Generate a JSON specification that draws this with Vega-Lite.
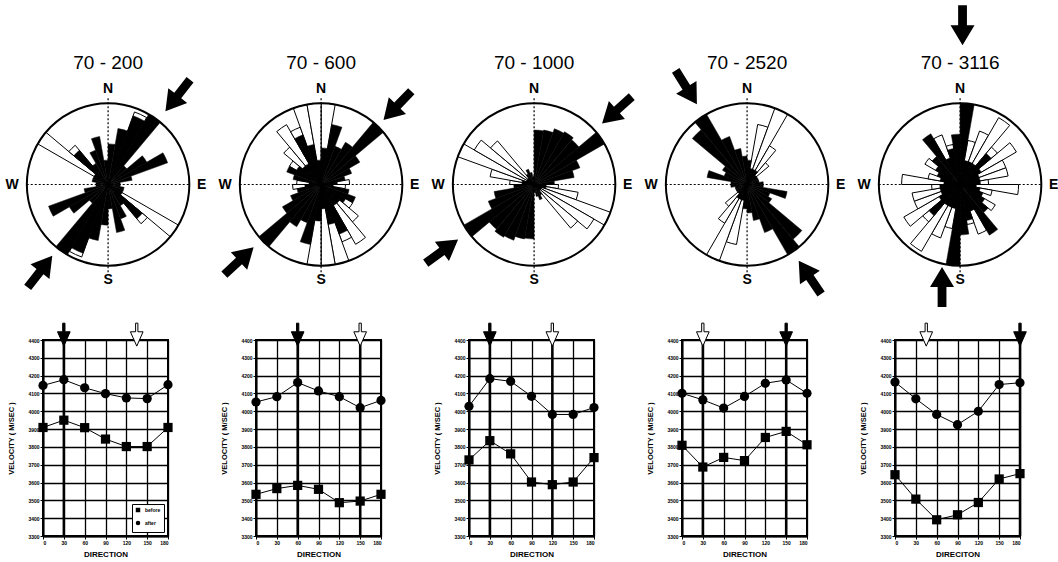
{
"$schema":"https://vega.github.io/schema/vega-lite/v6.json",
"padding":{"left":5,"top":5,"right":5,"bottom":1},
"background":"white",
"config":{"font":"Liberation Sans","view":{"stroke":"black","strokeWidth":2},
"axis":{"domainColor":"black","domainWidth":2,"gridColor":"black","gridOpacity":1,"gridWidth":1.3,"grid":true,"tickColor":"black","tickSize":3,"labelColor":"black","labelFontSize":5,"labelFontWeight":"bold","labelPadding":1,"titleColor":"black","titleFontWeight":"bold"}},
"datasets":{
"frame":[{"p":1,"t":"70 - 200"},{"p":2,"t":"70 - 600"},{"p":3,"t":"70 - 1000"},{"p":4,"t":"70 - 2520"},{"p":5,"t":"70 - 3116"}],
"compass":[{"l":"N","x":0,"y":1.18},{"l":"S","x":0,"y":-1.18},{"l":"W","x":-1.18,"y":0},{"l":"E","x":1.15,"y":0}],
"arrows":[{"p":1,"x":0.856,"y":1.095,"rot":38},{"p":1,"x":-0.837,"y":-1.072,"rot":218},
{"p":2,"x":0.938,"y":0.971,"rot":44},{"p":2,"x":-1.009,"y":-0.941,"rot":227},
{"p":3,"x":1.018,"y":0.917,"rot":48},{"p":3,"x":-1.133,"y":-0.823,"rot":234},
{"p":4,"x":-0.747,"y":1.196,"rot":328},{"p":4,"x":0.772,"y":-1.144,"rot":146},
{"p":5,"x":0.03,"y":1.96,"rot":0},{"p":5,"x":-0.222,"y":-1.26,"rot":180}],
"rose":[
{"p":1,"a":0,"b":10,"r":0.5,"c":"b"},{"p":1,"a":10,"b":20,"r":0.7,"c":"b"},{"p":1,"a":20,"b":30,"r":0.9,"c":"b"},{"p":1,"a":30,"b":40,"r":1,"c":"b"},{"p":1,"a":40,"b":50,"r":0.3,"c":"b"},{"p":1,"a":50,"b":60,"r":0.55,"c":"b"},{"p":1,"a":60,"b":70,"r":0.78,"c":"b"},{"p":1,"a":70,"b":80,"r":0.3,"c":"b"},{"p":1,"a":80,"b":90,"r":0.15,"c":"b"},{"p":1,"a":90,"b":100,"r":0.15,"c":"b"},{"p":1,"a":100,"b":110,"r":0.2,"c":"b"},{"p":1,"a":110,"b":120,"r":0.2,"c":"b"},{"p":1,"a":120,"b":130,"r":0.2,"c":"b"},{"p":1,"a":130,"b":140,"r":0.55,"c":"b"},{"p":1,"a":140,"b":150,"r":0.3,"c":"b"},{"p":1,"a":150,"b":160,"r":0.45,"c":"b"},{"p":1,"a":160,"b":170,"r":0.6,"c":"b"},{"p":1,"a":170,"b":180,"r":0.3,"c":"b"},
{"p":1,"a":180,"b":190,"r":0.5,"c":"b"},{"p":1,"a":190,"b":200,"r":0.7,"c":"b"},{"p":1,"a":200,"b":210,"r":0.9,"c":"b"},{"p":1,"a":210,"b":220,"r":1,"c":"b"},{"p":1,"a":220,"b":230,"r":0.3,"c":"b"},{"p":1,"a":230,"b":240,"r":0.55,"c":"b"},{"p":1,"a":240,"b":250,"r":0.78,"c":"b"},{"p":1,"a":250,"b":260,"r":0.3,"c":"b"},{"p":1,"a":260,"b":270,"r":0.15,"c":"b"},{"p":1,"a":270,"b":280,"r":0.15,"c":"b"},{"p":1,"a":280,"b":290,"r":0.2,"c":"b"},{"p":1,"a":290,"b":300,"r":0.2,"c":"b"},{"p":1,"a":300,"b":310,"r":0.2,"c":"b"},{"p":1,"a":310,"b":320,"r":0.55,"c":"b"},{"p":1,"a":320,"b":330,"r":0.3,"c":"b"},{"p":1,"a":330,"b":340,"r":0.45,"c":"b"},{"p":1,"a":340,"b":350,"r":0.6,"c":"b"},{"p":1,"a":350,"b":360,"r":0.3,"c":"b"},
{"p":1,"a":20,"b":30,"r":0.95,"c":"w"},{"p":1,"a":120,"b":130,"r":1,"c":"w"},{"p":1,"a":130,"b":140,"r":0.63,"c":"w"},{"p":1,"a":200,"b":210,"r":0.95,"c":"w"},{"p":1,"a":300,"b":310,"r":1,"c":"w"},{"p":1,"a":310,"b":320,"r":0.63,"c":"w"},
{"p":2,"a":0,"b":10,"r":0.45,"c":"b"},{"p":2,"a":10,"b":20,"r":0.75,"c":"b"},{"p":2,"a":20,"b":30,"r":0.5,"c":"b"},{"p":2,"a":30,"b":40,"r":0.6,"c":"b"},{"p":2,"a":40,"b":50,"r":1,"c":"b"},{"p":2,"a":50,"b":60,"r":0.55,"c":"b"},{"p":2,"a":60,"b":70,"r":0.4,"c":"b"},{"p":2,"a":70,"b":80,"r":0.3,"c":"b"},{"p":2,"a":80,"b":90,"r":0.2,"c":"b"},{"p":2,"a":90,"b":100,"r":0.15,"c":"b"},{"p":2,"a":100,"b":110,"r":0.35,"c":"b"},{"p":2,"a":110,"b":120,"r":0.45,"c":"b"},{"p":2,"a":120,"b":130,"r":0.35,"c":"b"},{"p":2,"a":130,"b":140,"r":0.3,"c":"b"},{"p":2,"a":140,"b":150,"r":0.3,"c":"b"},{"p":2,"a":150,"b":160,"r":0.65,"c":"b"},{"p":2,"a":160,"b":170,"r":0.5,"c":"b"},{"p":2,"a":170,"b":180,"r":0.3,"c":"b"},
{"p":2,"a":180,"b":190,"r":0.45,"c":"b"},{"p":2,"a":190,"b":200,"r":0.75,"c":"b"},{"p":2,"a":200,"b":210,"r":0.5,"c":"b"},{"p":2,"a":210,"b":220,"r":0.6,"c":"b"},{"p":2,"a":220,"b":230,"r":1,"c":"b"},{"p":2,"a":230,"b":240,"r":0.55,"c":"b"},{"p":2,"a":240,"b":250,"r":0.4,"c":"b"},{"p":2,"a":250,"b":260,"r":0.3,"c":"b"},{"p":2,"a":260,"b":270,"r":0.2,"c":"b"},{"p":2,"a":270,"b":280,"r":0.15,"c":"b"},{"p":2,"a":280,"b":290,"r":0.35,"c":"b"},{"p":2,"a":290,"b":300,"r":0.45,"c":"b"},{"p":2,"a":300,"b":310,"r":0.35,"c":"b"},{"p":2,"a":310,"b":320,"r":0.3,"c":"b"},{"p":2,"a":320,"b":330,"r":0.3,"c":"b"},{"p":2,"a":330,"b":340,"r":0.65,"c":"b"},{"p":2,"a":340,"b":350,"r":0.5,"c":"b"},{"p":2,"a":350,"b":360,"r":0.3,"c":"b"},
{"p":2,"a":0,"b":10,"r":1,"c":"w"},{"p":2,"a":80,"b":90,"r":0.35,"c":"w"},{"p":2,"a":90,"b":100,"r":0.3,"c":"w"},{"p":2,"a":120,"b":130,"r":0.45,"c":"w"},{"p":2,"a":130,"b":140,"r":0.6,"c":"w"},{"p":2,"a":140,"b":150,"r":0.85,"c":"w"},{"p":2,"a":150,"b":160,"r":0.75,"c":"w"},{"p":2,"a":160,"b":170,"r":1,"c":"w"},{"p":2,"a":170,"b":180,"r":1,"c":"w"},
{"p":2,"a":180,"b":190,"r":1,"c":"w"},{"p":2,"a":260,"b":270,"r":0.35,"c":"w"},{"p":2,"a":270,"b":280,"r":0.3,"c":"w"},{"p":2,"a":300,"b":310,"r":0.45,"c":"w"},{"p":2,"a":310,"b":320,"r":0.6,"c":"w"},{"p":2,"a":320,"b":330,"r":0.85,"c":"w"},{"p":2,"a":330,"b":340,"r":0.75,"c":"w"},{"p":2,"a":340,"b":350,"r":1,"c":"w"},{"p":2,"a":350,"b":360,"r":1,"c":"w"},
{"p":3,"a":0,"b":10,"r":0.67,"c":"b"},{"p":3,"a":10,"b":20,"r":0.68,"c":"b"},{"p":3,"a":20,"b":30,"r":0.73,"c":"b"},{"p":3,"a":30,"b":40,"r":0.75,"c":"b"},{"p":3,"a":40,"b":50,"r":0.72,"c":"b"},{"p":3,"a":50,"b":60,"r":1,"c":"b"},{"p":3,"a":60,"b":70,"r":0.6,"c":"b"},{"p":3,"a":70,"b":80,"r":0.5,"c":"b"},{"p":3,"a":80,"b":90,"r":0.25,"c":"b"},{"p":3,"a":90,"b":100,"r":0.15,"c":"b"},{"p":3,"a":100,"b":110,"r":0.15,"c":"b"},{"p":3,"a":110,"b":120,"r":0.1,"c":"b"},{"p":3,"a":120,"b":130,"r":0.1,"c":"b"},{"p":3,"a":130,"b":140,"r":0.1,"c":"b"},{"p":3,"a":140,"b":150,"r":0.15,"c":"b"},{"p":3,"a":150,"b":160,"r":0.2,"c":"b"},{"p":3,"a":160,"b":170,"r":0.15,"c":"b"},{"p":3,"a":170,"b":180,"r":0.1,"c":"b"},
{"p":3,"a":180,"b":190,"r":0.67,"c":"b"},{"p":3,"a":190,"b":200,"r":0.68,"c":"b"},{"p":3,"a":200,"b":210,"r":0.73,"c":"b"},{"p":3,"a":210,"b":220,"r":0.75,"c":"b"},{"p":3,"a":220,"b":230,"r":0.72,"c":"b"},{"p":3,"a":230,"b":240,"r":1,"c":"b"},{"p":3,"a":240,"b":250,"r":0.6,"c":"b"},{"p":3,"a":250,"b":260,"r":0.5,"c":"b"},{"p":3,"a":260,"b":270,"r":0.25,"c":"b"},{"p":3,"a":270,"b":280,"r":0.15,"c":"b"},{"p":3,"a":280,"b":290,"r":0.15,"c":"b"},{"p":3,"a":290,"b":300,"r":0.1,"c":"b"},{"p":3,"a":300,"b":310,"r":0.1,"c":"b"},{"p":3,"a":310,"b":320,"r":0.1,"c":"b"},{"p":3,"a":320,"b":330,"r":0.15,"c":"b"},{"p":3,"a":330,"b":340,"r":0.2,"c":"b"},{"p":3,"a":340,"b":350,"r":0.15,"c":"b"},{"p":3,"a":350,"b":360,"r":0.1,"c":"b"},
{"p":3,"a":90,"b":100,"r":0.3,"c":"w"},{"p":3,"a":100,"b":110,"r":0.55,"c":"w"},{"p":3,"a":110,"b":120,"r":1,"c":"w"},{"p":3,"a":120,"b":130,"r":0.85,"c":"w"},{"p":3,"a":130,"b":140,"r":0.7,"c":"w"},
{"p":3,"a":270,"b":280,"r":0.3,"c":"w"},{"p":3,"a":280,"b":290,"r":0.55,"c":"w"},{"p":3,"a":290,"b":300,"r":1,"c":"w"},{"p":3,"a":300,"b":310,"r":0.85,"c":"w"},{"p":3,"a":310,"b":320,"r":0.7,"c":"w"},
{"p":4,"a":0,"b":10,"r":0.3,"c":"b"},{"p":4,"a":10,"b":20,"r":0.2,"c":"b"},{"p":4,"a":20,"b":30,"r":0.2,"c":"b"},{"p":4,"a":30,"b":40,"r":0.2,"c":"b"},{"p":4,"a":40,"b":50,"r":0.15,"c":"b"},{"p":4,"a":50,"b":60,"r":0.15,"c":"b"},{"p":4,"a":60,"b":70,"r":0.15,"c":"b"},{"p":4,"a":70,"b":80,"r":0.15,"c":"b"},{"p":4,"a":80,"b":90,"r":0.2,"c":"b"},{"p":4,"a":90,"b":100,"r":0.2,"c":"b"},{"p":4,"a":100,"b":110,"r":0.5,"c":"b"},{"p":4,"a":110,"b":120,"r":0.3,"c":"b"},{"p":4,"a":120,"b":130,"r":0.35,"c":"b"},{"p":4,"a":130,"b":140,"r":0.88,"c":"b"},{"p":4,"a":140,"b":150,"r":1,"c":"b"},{"p":4,"a":150,"b":160,"r":0.63,"c":"b"},{"p":4,"a":160,"b":170,"r":0.45,"c":"b"},{"p":4,"a":170,"b":180,"r":0.35,"c":"b"},
{"p":4,"a":180,"b":190,"r":0.3,"c":"b"},{"p":4,"a":190,"b":200,"r":0.2,"c":"b"},{"p":4,"a":200,"b":210,"r":0.2,"c":"b"},{"p":4,"a":210,"b":220,"r":0.2,"c":"b"},{"p":4,"a":220,"b":230,"r":0.15,"c":"b"},{"p":4,"a":230,"b":240,"r":0.15,"c":"b"},{"p":4,"a":240,"b":250,"r":0.15,"c":"b"},{"p":4,"a":250,"b":260,"r":0.15,"c":"b"},{"p":4,"a":260,"b":270,"r":0.2,"c":"b"},{"p":4,"a":270,"b":280,"r":0.2,"c":"b"},{"p":4,"a":280,"b":290,"r":0.5,"c":"b"},{"p":4,"a":290,"b":300,"r":0.3,"c":"b"},{"p":4,"a":300,"b":310,"r":0.35,"c":"b"},{"p":4,"a":310,"b":320,"r":0.88,"c":"b"},{"p":4,"a":320,"b":330,"r":1,"c":"b"},{"p":4,"a":330,"b":340,"r":0.63,"c":"b"},{"p":4,"a":340,"b":350,"r":0.45,"c":"b"},{"p":4,"a":350,"b":360,"r":0.35,"c":"b"},
{"p":4,"a":10,"b":20,"r":0.75,"c":"w"},{"p":4,"a":20,"b":30,"r":1,"c":"w"},{"p":4,"a":30,"b":40,"r":0.55,"c":"w"},{"p":4,"a":40,"b":50,"r":0.35,"c":"w"},
{"p":4,"a":190,"b":200,"r":0.75,"c":"w"},{"p":4,"a":200,"b":210,"r":1,"c":"w"},{"p":4,"a":210,"b":220,"r":0.55,"c":"w"},{"p":4,"a":220,"b":230,"r":0.35,"c":"w"},
{"p":5,"a":0,"b":10,"r":1,"c":"b"},{"p":5,"a":10,"b":20,"r":0.3,"c":"b"},{"p":5,"a":20,"b":30,"r":0.3,"c":"b"},{"p":5,"a":30,"b":40,"r":0.3,"c":"b"},{"p":5,"a":40,"b":50,"r":0.5,"c":"b"},{"p":5,"a":50,"b":60,"r":0.3,"c":"b"},{"p":5,"a":60,"b":70,"r":0.25,"c":"b"},{"p":5,"a":70,"b":80,"r":0.25,"c":"b"},{"p":5,"a":80,"b":90,"r":0.25,"c":"b"},{"p":5,"a":90,"b":100,"r":0.2,"c":"b"},{"p":5,"a":100,"b":110,"r":0.25,"c":"b"},{"p":5,"a":110,"b":120,"r":0.3,"c":"b"},{"p":5,"a":120,"b":130,"r":0.35,"c":"b"},{"p":5,"a":130,"b":140,"r":0.45,"c":"b"},{"p":5,"a":140,"b":150,"r":0.72,"c":"b"},{"p":5,"a":150,"b":160,"r":0.35,"c":"b"},{"p":5,"a":160,"b":170,"r":0.45,"c":"b"},{"p":5,"a":170,"b":180,"r":0.62,"c":"b"},
{"p":5,"a":180,"b":190,"r":1,"c":"b"},{"p":5,"a":190,"b":200,"r":0.3,"c":"b"},{"p":5,"a":200,"b":210,"r":0.3,"c":"b"},{"p":5,"a":210,"b":220,"r":0.3,"c":"b"},{"p":5,"a":220,"b":230,"r":0.5,"c":"b"},{"p":5,"a":230,"b":240,"r":0.3,"c":"b"},{"p":5,"a":240,"b":250,"r":0.25,"c":"b"},{"p":5,"a":250,"b":260,"r":0.25,"c":"b"},{"p":5,"a":260,"b":270,"r":0.25,"c":"b"},{"p":5,"a":270,"b":280,"r":0.2,"c":"b"},{"p":5,"a":280,"b":290,"r":0.25,"c":"b"},{"p":5,"a":290,"b":300,"r":0.3,"c":"b"},{"p":5,"a":300,"b":310,"r":0.35,"c":"b"},{"p":5,"a":310,"b":320,"r":0.45,"c":"b"},{"p":5,"a":320,"b":330,"r":0.72,"c":"b"},{"p":5,"a":330,"b":340,"r":0.35,"c":"b"},{"p":5,"a":340,"b":350,"r":0.45,"c":"b"},{"p":5,"a":350,"b":360,"r":0.62,"c":"b"},
{"p":5,"a":10,"b":20,"r":0.55,"c":"w"},{"p":5,"a":20,"b":30,"r":0.7,"c":"w"},{"p":5,"a":30,"b":40,"r":0.95,"c":"w"},{"p":5,"a":40,"b":50,"r":0.6,"c":"w"},{"p":5,"a":50,"b":60,"r":0.8,"c":"w"},{"p":5,"a":60,"b":70,"r":0.6,"c":"w"},{"p":5,"a":70,"b":80,"r":0.6,"c":"w"},{"p":5,"a":80,"b":90,"r":0.35,"c":"w"},{"p":5,"a":90,"b":100,"r":0.72,"c":"w"},{"p":5,"a":100,"b":110,"r":0.4,"c":"w"},{"p":5,"a":120,"b":130,"r":0.5,"c":"w"},{"p":5,"a":150,"b":160,"r":0.65,"c":"w"},{"p":5,"a":160,"b":170,"r":0.5,"c":"w"},
{"p":5,"a":190,"b":200,"r":0.55,"c":"w"},{"p":5,"a":200,"b":210,"r":0.7,"c":"w"},{"p":5,"a":210,"b":220,"r":0.95,"c":"w"},{"p":5,"a":220,"b":230,"r":0.6,"c":"w"},{"p":5,"a":230,"b":240,"r":0.8,"c":"w"},{"p":5,"a":240,"b":250,"r":0.6,"c":"w"},{"p":5,"a":250,"b":260,"r":0.6,"c":"w"},{"p":5,"a":260,"b":270,"r":0.35,"c":"w"},{"p":5,"a":270,"b":280,"r":0.72,"c":"w"},{"p":5,"a":280,"b":290,"r":0.4,"c":"w"},{"p":5,"a":300,"b":310,"r":0.5,"c":"w"},{"p":5,"a":330,"b":340,"r":0.65,"c":"w"},{"p":5,"a":340,"b":350,"r":0.5,"c":"w"}
],
"vel":[
{"p":1,"d":0,"v":4145,"s":"after"},{"p":1,"d":30,"v":4177,"s":"after"},{"p":1,"d":60,"v":4132,"s":"after"},{"p":1,"d":90,"v":4099,"s":"after"},{"p":1,"d":120,"v":4075,"s":"after"},{"p":1,"d":150,"v":4071,"s":"after"},{"p":1,"d":180,"v":4149,"s":"after"},
{"p":1,"d":0,"v":3909,"s":"before"},{"p":1,"d":30,"v":3950,"s":"before"},{"p":1,"d":60,"v":3908,"s":"before"},{"p":1,"d":90,"v":3844,"s":"before"},{"p":1,"d":120,"v":3802,"s":"before"},{"p":1,"d":150,"v":3802,"s":"before"},{"p":1,"d":180,"v":3909,"s":"before"},
{"p":2,"d":0,"v":4052,"s":"after"},{"p":2,"d":30,"v":4082,"s":"after"},{"p":2,"d":60,"v":4161,"s":"after"},{"p":2,"d":90,"v":4114,"s":"after"},{"p":2,"d":120,"v":4082,"s":"after"},{"p":2,"d":150,"v":4020,"s":"after"},{"p":2,"d":180,"v":4061,"s":"after"},
{"p":2,"d":0,"v":3534,"s":"before"},{"p":2,"d":30,"v":3566,"s":"before"},{"p":2,"d":60,"v":3584,"s":"before"},{"p":2,"d":90,"v":3562,"s":"before"},{"p":2,"d":120,"v":3487,"s":"before"},{"p":2,"d":150,"v":3496,"s":"before"},{"p":2,"d":180,"v":3534,"s":"before"},
{"p":3,"d":0,"v":4028,"s":"after"},{"p":3,"d":30,"v":4183,"s":"after"},{"p":3,"d":60,"v":4168,"s":"after"},{"p":3,"d":90,"v":4084,"s":"after"},{"p":3,"d":120,"v":3982,"s":"after"},{"p":3,"d":150,"v":3982,"s":"after"},{"p":3,"d":180,"v":4021,"s":"after"},
{"p":3,"d":0,"v":3727,"s":"before"},{"p":3,"d":30,"v":3835,"s":"before"},{"p":3,"d":60,"v":3761,"s":"before"},{"p":3,"d":90,"v":3603,"s":"before"},{"p":3,"d":120,"v":3588,"s":"before"},{"p":3,"d":150,"v":3603,"s":"before"},{"p":3,"d":180,"v":3740,"s":"before"},
{"p":4,"d":0,"v":4101,"s":"after"},{"p":4,"d":30,"v":4064,"s":"after"},{"p":4,"d":60,"v":4018,"s":"after"},{"p":4,"d":90,"v":4083,"s":"after"},{"p":4,"d":120,"v":4157,"s":"after"},{"p":4,"d":150,"v":4176,"s":"after"},{"p":4,"d":180,"v":4101,"s":"after"},
{"p":4,"d":0,"v":3809,"s":"before"},{"p":4,"d":30,"v":3687,"s":"before"},{"p":4,"d":60,"v":3741,"s":"before"},{"p":4,"d":90,"v":3723,"s":"before"},{"p":4,"d":120,"v":3853,"s":"before"},{"p":4,"d":150,"v":3887,"s":"before"},{"p":4,"d":180,"v":3812,"s":"before"},
{"p":5,"d":0,"v":4164,"s":"after"},{"p":5,"d":30,"v":4070,"s":"after"},{"p":5,"d":60,"v":3982,"s":"after"},{"p":5,"d":90,"v":3925,"s":"after"},{"p":5,"d":120,"v":4000,"s":"after"},{"p":5,"d":150,"v":4150,"s":"after"},{"p":5,"d":180,"v":4160,"s":"after"},
{"p":5,"d":0,"v":3644,"s":"before"},{"p":5,"d":30,"v":3507,"s":"before"},{"p":5,"d":60,"v":3391,"s":"before"},{"p":5,"d":90,"v":3419,"s":"before"},{"p":5,"d":120,"v":3488,"s":"before"},{"p":5,"d":150,"v":3620,"s":"before"},{"p":5,"d":180,"v":3650,"s":"before"}
],
"mk":[{"p":1,"d":30,"k":"b"},{"p":1,"d":135,"k":"w"},{"p":2,"d":60,"k":"b"},{"p":2,"d":150,"k":"w"},{"p":3,"d":30,"k":"b"},{"p":3,"d":120,"k":"w"},{"p":4,"d":30,"k":"w"},{"p":4,"d":150,"k":"b"},{"p":5,"d":45,"k":"w"},{"p":5,"d":180,"k":"b"}]
},
"spacing":13,
"vconcat":[
{"hconcat":[
{"width":179,"height":195,"view":{"stroke":null},"layer":[
{"data":{"name":"rose"},"transform":[{"filter":"datum.p==1 && datum.c=='w'"}],"mark":{"type":"arc","fill":"white","stroke":"black","strokeWidth":1},"encoding":{"x":{"datum":0,"type":"quantitative","scale":{"domain":[-0.8,1.4]},"axis":null},"y":{"datum":0,"type":"quantitative","scale":{"domain":[-1.2,1.2]},"axis":null},"theta":{"field":"a","type":"quantitative","scale":{"domain":[0,360]}},"theta2":{"field":"b"},"radius":{"field":"r","type":"quantitative","scale":{"type":"linear","domain":[0,1.2],"range":[0,97.5]}}}},
{"data":{"name":"frame"},"transform":[{"filter":"datum.p==1"}],"mark":{"type":"rule","color":"black","strokeDash":[2,2],"strokeWidth":1.2},"encoding":{"x":{"datum":-1,"type":"quantitative","axis":null},"x2":{"datum":1},"y":{"datum":0,"type":"quantitative","axis":null}}},
{"data":{"name":"frame"},"transform":[{"filter":"datum.p==1"}],"mark":{"type":"rule","color":"black","strokeDash":[2,2],"strokeWidth":1.2},"encoding":{"x":{"datum":0,"type":"quantitative","axis":null},"y":{"datum":-1.08,"type":"quantitative","axis":null},"y2":{"datum":1.08}}},
{"data":{"name":"rose"},"transform":[{"filter":"datum.p==1 && datum.c=='b'"}],"mark":{"type":"arc","fill":"black","stroke":"black","strokeWidth":0.5},"encoding":{"x":{"datum":0,"type":"quantitative","axis":null},"y":{"datum":0,"type":"quantitative","axis":null},"theta":{"field":"a","type":"quantitative"},"theta2":{"field":"b"},"radius":{"field":"r","type":"quantitative"}}},
{"data":{"name":"frame"},"transform":[{"filter":"datum.p==1"}],"mark":{"type":"arc","filled":false,"stroke":"black","strokeWidth":2},"encoding":{"x":{"datum":0,"type":"quantitative","axis":null},"y":{"datum":0,"type":"quantitative","axis":null},"theta":{"datum":0,"type":"quantitative"},"theta2":{"datum":360},"radius":{"datum":1,"type":"quantitative"}}},
{"data":{"name":"compass"},"mark":{"type":"text","fontSize":14,"fontWeight":"bold","color":"black","align":"center","baseline":"middle"},"encoding":{"x":{"field":"x","type":"quantitative","axis":null},"y":{"field":"y","type":"quantitative","axis":null},"text":{"field":"l"}}},
{"data":{"name":"frame"},"transform":[{"filter":"datum.p==1"}],"mark":{"type":"text","fontSize":19,"color":"black","align":"center","baseline":"middle"},"encoding":{"x":{"datum":0,"type":"quantitative","axis":null},"y":{"datum":1.49,"type":"quantitative","axis":null},"text":{"field":"t"}}},
{"data":{"name":"arrows"},"transform":[{"filter":"datum.p==1"}],"mark":{"type":"point","shape":"M-0.22,-1L0.22,-1L0.22,0L0.6,0L0,1L-0.6,0L-0.22,0Z","size":1600,"filled":true,"color":"black","opacity":1},"encoding":{"x":{"field":"x","type":"quantitative","axis":null},"y":{"field":"y","type":"quantitative","axis":null},"angle":{"field":"rot","type":"quantitative","scale":{"domain":[0,360],"range":[0,360]}}}}
]},
{"width":179,"height":195,"view":{"stroke":null},"layer":[
{"data":{"name":"rose"},"transform":[{"filter":"datum.p==2 && datum.c=='w'"}],"mark":{"type":"arc","fill":"white","stroke":"black","strokeWidth":1},"encoding":{"x":{"datum":0,"type":"quantitative","scale":{"domain":[-0.8,1.4]},"axis":null},"y":{"datum":0,"type":"quantitative","scale":{"domain":[-1.2,1.2]},"axis":null},"theta":{"field":"a","type":"quantitative","scale":{"domain":[0,360]}},"theta2":{"field":"b"},"radius":{"field":"r","type":"quantitative","scale":{"type":"linear","domain":[0,1.2],"range":[0,97.5]}}}},
{"data":{"name":"frame"},"transform":[{"filter":"datum.p==2"}],"mark":{"type":"rule","color":"black","strokeDash":[2,2],"strokeWidth":1.2},"encoding":{"x":{"datum":-1,"type":"quantitative","axis":null},"x2":{"datum":1},"y":{"datum":0,"type":"quantitative","axis":null}}},
{"data":{"name":"frame"},"transform":[{"filter":"datum.p==2"}],"mark":{"type":"rule","color":"black","strokeDash":[2,2],"strokeWidth":1.2},"encoding":{"x":{"datum":0,"type":"quantitative","axis":null},"y":{"datum":-1.08,"type":"quantitative","axis":null},"y2":{"datum":1.08}}},
{"data":{"name":"rose"},"transform":[{"filter":"datum.p==2 && datum.c=='b'"}],"mark":{"type":"arc","fill":"black","stroke":"black","strokeWidth":0.5},"encoding":{"x":{"datum":0,"type":"quantitative","axis":null},"y":{"datum":0,"type":"quantitative","axis":null},"theta":{"field":"a","type":"quantitative"},"theta2":{"field":"b"},"radius":{"field":"r","type":"quantitative"}}},
{"data":{"name":"frame"},"transform":[{"filter":"datum.p==2"}],"mark":{"type":"arc","filled":false,"stroke":"black","strokeWidth":2},"encoding":{"x":{"datum":0,"type":"quantitative","axis":null},"y":{"datum":0,"type":"quantitative","axis":null},"theta":{"datum":0,"type":"quantitative"},"theta2":{"datum":360},"radius":{"datum":1,"type":"quantitative"}}},
{"data":{"name":"compass"},"mark":{"type":"text","fontSize":14,"fontWeight":"bold","color":"black","align":"center","baseline":"middle"},"encoding":{"x":{"field":"x","type":"quantitative","axis":null},"y":{"field":"y","type":"quantitative","axis":null},"text":{"field":"l"}}},
{"data":{"name":"frame"},"transform":[{"filter":"datum.p==2"}],"mark":{"type":"text","fontSize":19,"color":"black","align":"center","baseline":"middle"},"encoding":{"x":{"datum":0,"type":"quantitative","axis":null},"y":{"datum":1.49,"type":"quantitative","axis":null},"text":{"field":"t"}}},
{"data":{"name":"arrows"},"transform":[{"filter":"datum.p==2"}],"mark":{"type":"point","shape":"M-0.22,-1L0.22,-1L0.22,0L0.6,0L0,1L-0.6,0L-0.22,0Z","size":1600,"filled":true,"color":"black","opacity":1},"encoding":{"x":{"field":"x","type":"quantitative","axis":null},"y":{"field":"y","type":"quantitative","axis":null},"angle":{"field":"rot","type":"quantitative","scale":{"domain":[0,360],"range":[0,360]}}}}
]},
{"width":179,"height":195,"view":{"stroke":null},"layer":[
{"data":{"name":"rose"},"transform":[{"filter":"datum.p==3 && datum.c=='w'"}],"mark":{"type":"arc","fill":"white","stroke":"black","strokeWidth":1},"encoding":{"x":{"datum":0,"type":"quantitative","scale":{"domain":[-0.8,1.4]},"axis":null},"y":{"datum":0,"type":"quantitative","scale":{"domain":[-1.2,1.2]},"axis":null},"theta":{"field":"a","type":"quantitative","scale":{"domain":[0,360]}},"theta2":{"field":"b"},"radius":{"field":"r","type":"quantitative","scale":{"type":"linear","domain":[0,1.2],"range":[0,97.5]}}}},
{"data":{"name":"frame"},"transform":[{"filter":"datum.p==3"}],"mark":{"type":"rule","color":"black","strokeDash":[2,2],"strokeWidth":1.2},"encoding":{"x":{"datum":-1,"type":"quantitative","axis":null},"x2":{"datum":1},"y":{"datum":0,"type":"quantitative","axis":null}}},
{"data":{"name":"frame"},"transform":[{"filter":"datum.p==3"}],"mark":{"type":"rule","color":"black","strokeDash":[2,2],"strokeWidth":1.2},"encoding":{"x":{"datum":0,"type":"quantitative","axis":null},"y":{"datum":-1.08,"type":"quantitative","axis":null},"y2":{"datum":1.08}}},
{"data":{"name":"rose"},"transform":[{"filter":"datum.p==3 && datum.c=='b'"}],"mark":{"type":"arc","fill":"black","stroke":"black","strokeWidth":0.5},"encoding":{"x":{"datum":0,"type":"quantitative","axis":null},"y":{"datum":0,"type":"quantitative","axis":null},"theta":{"field":"a","type":"quantitative"},"theta2":{"field":"b"},"radius":{"field":"r","type":"quantitative"}}},
{"data":{"name":"frame"},"transform":[{"filter":"datum.p==3"}],"mark":{"type":"arc","filled":false,"stroke":"black","strokeWidth":2},"encoding":{"x":{"datum":0,"type":"quantitative","axis":null},"y":{"datum":0,"type":"quantitative","axis":null},"theta":{"datum":0,"type":"quantitative"},"theta2":{"datum":360},"radius":{"datum":1,"type":"quantitative"}}},
{"data":{"name":"compass"},"mark":{"type":"text","fontSize":14,"fontWeight":"bold","color":"black","align":"center","baseline":"middle"},"encoding":{"x":{"field":"x","type":"quantitative","axis":null},"y":{"field":"y","type":"quantitative","axis":null},"text":{"field":"l"}}},
{"data":{"name":"frame"},"transform":[{"filter":"datum.p==3"}],"mark":{"type":"text","fontSize":19,"color":"black","align":"center","baseline":"middle"},"encoding":{"x":{"datum":0,"type":"quantitative","axis":null},"y":{"datum":1.49,"type":"quantitative","axis":null},"text":{"field":"t"}}},
{"data":{"name":"arrows"},"transform":[{"filter":"datum.p==3"}],"mark":{"type":"point","shape":"M-0.22,-1L0.22,-1L0.22,0L0.6,0L0,1L-0.6,0L-0.22,0Z","size":1600,"filled":true,"color":"black","opacity":1},"encoding":{"x":{"field":"x","type":"quantitative","axis":null},"y":{"field":"y","type":"quantitative","axis":null},"angle":{"field":"rot","type":"quantitative","scale":{"domain":[0,360],"range":[0,360]}}}}
]},
{"width":179,"height":195,"view":{"stroke":null},"layer":[
{"data":{"name":"rose"},"transform":[{"filter":"datum.p==4 && datum.c=='w'"}],"mark":{"type":"arc","fill":"white","stroke":"black","strokeWidth":1},"encoding":{"x":{"datum":0,"type":"quantitative","scale":{"domain":[-0.8,1.4]},"axis":null},"y":{"datum":0,"type":"quantitative","scale":{"domain":[-1.2,1.2]},"axis":null},"theta":{"field":"a","type":"quantitative","scale":{"domain":[0,360]}},"theta2":{"field":"b"},"radius":{"field":"r","type":"quantitative","scale":{"type":"linear","domain":[0,1.2],"range":[0,97.5]}}}},
{"data":{"name":"frame"},"transform":[{"filter":"datum.p==4"}],"mark":{"type":"rule","color":"black","strokeDash":[2,2],"strokeWidth":1.2},"encoding":{"x":{"datum":-1,"type":"quantitative","axis":null},"x2":{"datum":1},"y":{"datum":0,"type":"quantitative","axis":null}}},
{"data":{"name":"frame"},"transform":[{"filter":"datum.p==4"}],"mark":{"type":"rule","color":"black","strokeDash":[2,2],"strokeWidth":1.2},"encoding":{"x":{"datum":0,"type":"quantitative","axis":null},"y":{"datum":-1.08,"type":"quantitative","axis":null},"y2":{"datum":1.08}}},
{"data":{"name":"rose"},"transform":[{"filter":"datum.p==4 && datum.c=='b'"}],"mark":{"type":"arc","fill":"black","stroke":"black","strokeWidth":0.5},"encoding":{"x":{"datum":0,"type":"quantitative","axis":null},"y":{"datum":0,"type":"quantitative","axis":null},"theta":{"field":"a","type":"quantitative"},"theta2":{"field":"b"},"radius":{"field":"r","type":"quantitative"}}},
{"data":{"name":"frame"},"transform":[{"filter":"datum.p==4"}],"mark":{"type":"arc","filled":false,"stroke":"black","strokeWidth":2},"encoding":{"x":{"datum":0,"type":"quantitative","axis":null},"y":{"datum":0,"type":"quantitative","axis":null},"theta":{"datum":0,"type":"quantitative"},"theta2":{"datum":360},"radius":{"datum":1,"type":"quantitative"}}},
{"data":{"name":"compass"},"mark":{"type":"text","fontSize":14,"fontWeight":"bold","color":"black","align":"center","baseline":"middle"},"encoding":{"x":{"field":"x","type":"quantitative","axis":null},"y":{"field":"y","type":"quantitative","axis":null},"text":{"field":"l"}}},
{"data":{"name":"frame"},"transform":[{"filter":"datum.p==4"}],"mark":{"type":"text","fontSize":19,"color":"black","align":"center","baseline":"middle"},"encoding":{"x":{"datum":0,"type":"quantitative","axis":null},"y":{"datum":1.49,"type":"quantitative","axis":null},"text":{"field":"t"}}},
{"data":{"name":"arrows"},"transform":[{"filter":"datum.p==4"}],"mark":{"type":"point","shape":"M-0.22,-1L0.22,-1L0.22,0L0.6,0L0,1L-0.6,0L-0.22,0Z","size":1600,"filled":true,"color":"black","opacity":1},"encoding":{"x":{"field":"x","type":"quantitative","axis":null},"y":{"field":"y","type":"quantitative","axis":null},"angle":{"field":"rot","type":"quantitative","scale":{"domain":[0,360],"range":[0,360]}}}}
]},
{"width":179,"height":195,"view":{"stroke":null},"layer":[
{"data":{"name":"rose"},"transform":[{"filter":"datum.p==5 && datum.c=='w'"}],"mark":{"type":"arc","fill":"white","stroke":"black","strokeWidth":1},"encoding":{"x":{"datum":0,"type":"quantitative","scale":{"domain":[-0.8,1.4]},"axis":null},"y":{"datum":0,"type":"quantitative","scale":{"domain":[-1.2,1.2]},"axis":null},"theta":{"field":"a","type":"quantitative","scale":{"domain":[0,360]}},"theta2":{"field":"b"},"radius":{"field":"r","type":"quantitative","scale":{"type":"linear","domain":[0,1.2],"range":[0,97.5]}}}},
{"data":{"name":"frame"},"transform":[{"filter":"datum.p==5"}],"mark":{"type":"rule","color":"black","strokeDash":[2,2],"strokeWidth":1.2},"encoding":{"x":{"datum":-1,"type":"quantitative","axis":null},"x2":{"datum":1},"y":{"datum":0,"type":"quantitative","axis":null}}},
{"data":{"name":"frame"},"transform":[{"filter":"datum.p==5"}],"mark":{"type":"rule","color":"black","strokeDash":[2,2],"strokeWidth":1.2},"encoding":{"x":{"datum":0,"type":"quantitative","axis":null},"y":{"datum":-1.08,"type":"quantitative","axis":null},"y2":{"datum":1.08}}},
{"data":{"name":"rose"},"transform":[{"filter":"datum.p==5 && datum.c=='b'"}],"mark":{"type":"arc","fill":"black","stroke":"black","strokeWidth":0.5},"encoding":{"x":{"datum":0,"type":"quantitative","axis":null},"y":{"datum":0,"type":"quantitative","axis":null},"theta":{"field":"a","type":"quantitative"},"theta2":{"field":"b"},"radius":{"field":"r","type":"quantitative"}}},
{"data":{"name":"frame"},"transform":[{"filter":"datum.p==5"}],"mark":{"type":"arc","filled":false,"stroke":"black","strokeWidth":2},"encoding":{"x":{"datum":0,"type":"quantitative","axis":null},"y":{"datum":0,"type":"quantitative","axis":null},"theta":{"datum":0,"type":"quantitative"},"theta2":{"datum":360},"radius":{"datum":1,"type":"quantitative"}}},
{"data":{"name":"compass"},"mark":{"type":"text","fontSize":14,"fontWeight":"bold","color":"black","align":"center","baseline":"middle"},"encoding":{"x":{"field":"x","type":"quantitative","axis":null},"y":{"field":"y","type":"quantitative","axis":null},"text":{"field":"l"}}},
{"data":{"name":"frame"},"transform":[{"filter":"datum.p==5"}],"mark":{"type":"text","fontSize":19,"color":"black","align":"center","baseline":"middle"},"encoding":{"x":{"datum":0,"type":"quantitative","axis":null},"y":{"datum":1.49,"type":"quantitative","axis":null},"text":{"field":"t"}}},
{"data":{"name":"arrows"},"transform":[{"filter":"datum.p==5"}],"mark":{"type":"point","shape":"M-0.22,-1L0.22,-1L0.22,0L0.6,0L0,1L-0.6,0L-0.22,0Z","size":1600,"filled":true,"color":"black","opacity":1},"encoding":{"x":{"field":"x","type":"quantitative","axis":null},"y":{"field":"y","type":"quantitative","axis":null},"angle":{"field":"rot","type":"quantitative","scale":{"domain":[0,360],"range":[0,360]}}}}
]}
],"spacing":34,"bounds":"flush"},
{"hconcat":[
{"width":125,"height":196,
"encoding":{"x":{"field":"d","type":"quantitative","scale":{"domain":[0,180],"nice":false},"axis":{"title":"DIRECTION","values":[0,30,60,90,120,150,180],"titleFontSize":8,"titlePadding":5}}},
"layer":[
{"data":{"name":"mk"},"transform":[{"filter":"datum.p==1 && datum.d%30==0"}],"mark":{"type":"rule","color":"black","strokeWidth":2.5},"encoding":{"y":{"datum":3300,"type":"quantitative","axis":{"title":"VELOCITY ( M/SEC )","values":[3300,3400,3500,3600,3700,3800,3900,4000,4100,4200,4300,4400],"format":"d","titleFontSize":7.5,"titlePadding":12}},"y2":{"datum":4400}}},
{"data":{"name":"vel"},"transform":[{"filter":"datum.p==1"}],"mark":{"type":"line","color":"black","strokeWidth":1},"encoding":{"y":{"field":"v","type":"quantitative","scale":{"domain":[3300,4400],"zero":false,"nice":false},"axis":{"title":"VELOCITY ( M/SEC )","values":[3300,3400,3500,3600,3700,3800,3900,4000,4100,4200,4300,4400],"format":"d","titleFontSize":7.5,"titlePadding":12}},"detail":{"field":"s"}}},
{"data":{"name":"vel"},"transform":[{"filter":"datum.p==1"}],"mark":{"type":"point","filled":true,"color":"black","size":85,"opacity":1},"encoding":{"y":{"field":"v","type":"quantitative","axis":{"title":"VELOCITY ( M/SEC )","values":[3300,3400,3500,3600,3700,3800,3900,4000,4100,4200,4300,4400],"format":"d","titleFontSize":7.5,"titlePadding":12}},"shape":{"field":"s","type":"nominal","scale":{"domain":["before","after"],"range":["square","circle"]},"legend":{"orient":"bottom-right","title":null,"labelFontSize":5,"labelFontWeight":"bold","labelColor":"black","symbolSize":20,"strokeColor":"black","fillColor":"white","padding":3,"rowPadding":1,"offset":4,"symbolFillColor":"black","symbolStrokeColor":"black"}}}},
{"data":{"name":"mk"},"transform":[{"filter":"datum.p==1"}],"mark":{"type":"point","shape":"M-0.1,-1L0.1,-1L0.1,-0.25L0.55,-0.25L0,1L-0.55,-0.25L-0.1,-0.25Z","size":529,"stroke":"black","strokeWidth":1,"opacity":1,"filled":true},"encoding":{"y":{"datum":4430,"type":"quantitative","axis":{"title":"VELOCITY ( M/SEC )","values":[3300,3400,3500,3600,3700,3800,3900,4000,4100,4200,4300,4400],"format":"d","titleFontSize":7.5,"titlePadding":12}},"fill":{"field":"k","type":"nominal","scale":{"domain":["b","w"],"range":["black","white"]},"legend":null}}}
]},
{"width":125,"height":196,
"encoding":{"x":{"field":"d","type":"quantitative","scale":{"domain":[0,180],"nice":false},"axis":{"title":"DIRECTION","values":[0,30,60,90,120,150,180],"titleFontSize":8,"titlePadding":5}}},
"layer":[
{"data":{"name":"mk"},"transform":[{"filter":"datum.p==2 && datum.d%30==0"}],"mark":{"type":"rule","color":"black","strokeWidth":2.5},"encoding":{"y":{"datum":3300,"type":"quantitative","axis":{"title":"VELOCITY ( M/SEC )","values":[3300,3400,3500,3600,3700,3800,3900,4000,4100,4200,4300,4400],"format":"d","titleFontSize":7.5,"titlePadding":12}},"y2":{"datum":4400}}},
{"data":{"name":"vel"},"transform":[{"filter":"datum.p==2"}],"mark":{"type":"line","color":"black","strokeWidth":1},"encoding":{"y":{"field":"v","type":"quantitative","scale":{"domain":[3300,4400],"zero":false,"nice":false},"axis":{"title":"VELOCITY ( M/SEC )","values":[3300,3400,3500,3600,3700,3800,3900,4000,4100,4200,4300,4400],"format":"d","titleFontSize":7.5,"titlePadding":12}},"detail":{"field":"s"}}},
{"data":{"name":"vel"},"transform":[{"filter":"datum.p==2"}],"mark":{"type":"point","filled":true,"color":"black","size":85,"opacity":1},"encoding":{"y":{"field":"v","type":"quantitative","axis":{"title":"VELOCITY ( M/SEC )","values":[3300,3400,3500,3600,3700,3800,3900,4000,4100,4200,4300,4400],"format":"d","titleFontSize":7.5,"titlePadding":12}},"shape":{"field":"s","type":"nominal","scale":{"domain":["before","after"],"range":["square","circle"]},"legend":null}}},
{"data":{"name":"mk"},"transform":[{"filter":"datum.p==2"}],"mark":{"type":"point","shape":"M-0.1,-1L0.1,-1L0.1,-0.25L0.55,-0.25L0,1L-0.55,-0.25L-0.1,-0.25Z","size":529,"stroke":"black","strokeWidth":1,"opacity":1,"filled":true},"encoding":{"y":{"datum":4430,"type":"quantitative","axis":{"title":"VELOCITY ( M/SEC )","values":[3300,3400,3500,3600,3700,3800,3900,4000,4100,4200,4300,4400],"format":"d","titleFontSize":7.5,"titlePadding":12}},"fill":{"field":"k","type":"nominal","scale":{"domain":["b","w"],"range":["black","white"]},"legend":null}}}
]},
{"width":125,"height":196,
"encoding":{"x":{"field":"d","type":"quantitative","scale":{"domain":[0,180],"nice":false},"axis":{"title":"DIRECTION","values":[0,30,60,90,120,150,180],"titleFontSize":8,"titlePadding":5}}},
"layer":[
{"data":{"name":"mk"},"transform":[{"filter":"datum.p==3 && datum.d%30==0"}],"mark":{"type":"rule","color":"black","strokeWidth":2.5},"encoding":{"y":{"datum":3300,"type":"quantitative","axis":{"title":"VELOCITY ( M/SEC )","values":[3300,3400,3500,3600,3700,3800,3900,4000,4100,4200,4300,4400],"format":"d","titleFontSize":7.5,"titlePadding":12}},"y2":{"datum":4400}}},
{"data":{"name":"vel"},"transform":[{"filter":"datum.p==3"}],"mark":{"type":"line","color":"black","strokeWidth":1},"encoding":{"y":{"field":"v","type":"quantitative","scale":{"domain":[3300,4400],"zero":false,"nice":false},"axis":{"title":"VELOCITY ( M/SEC )","values":[3300,3400,3500,3600,3700,3800,3900,4000,4100,4200,4300,4400],"format":"d","titleFontSize":7.5,"titlePadding":12}},"detail":{"field":"s"}}},
{"data":{"name":"vel"},"transform":[{"filter":"datum.p==3"}],"mark":{"type":"point","filled":true,"color":"black","size":85,"opacity":1},"encoding":{"y":{"field":"v","type":"quantitative","axis":{"title":"VELOCITY ( M/SEC )","values":[3300,3400,3500,3600,3700,3800,3900,4000,4100,4200,4300,4400],"format":"d","titleFontSize":7.5,"titlePadding":12}},"shape":{"field":"s","type":"nominal","scale":{"domain":["before","after"],"range":["square","circle"]},"legend":null}}},
{"data":{"name":"mk"},"transform":[{"filter":"datum.p==3"}],"mark":{"type":"point","shape":"M-0.1,-1L0.1,-1L0.1,-0.25L0.55,-0.25L0,1L-0.55,-0.25L-0.1,-0.25Z","size":529,"stroke":"black","strokeWidth":1,"opacity":1,"filled":true},"encoding":{"y":{"datum":4430,"type":"quantitative","axis":{"title":"VELOCITY ( M/SEC )","values":[3300,3400,3500,3600,3700,3800,3900,4000,4100,4200,4300,4400],"format":"d","titleFontSize":7.5,"titlePadding":12}},"fill":{"field":"k","type":"nominal","scale":{"domain":["b","w"],"range":["black","white"]},"legend":null}}}
]},
{"width":125,"height":196,
"encoding":{"x":{"field":"d","type":"quantitative","scale":{"domain":[0,180],"nice":false},"axis":{"title":"DIRECTION","values":[0,30,60,90,120,150,180],"titleFontSize":8,"titlePadding":5}}},
"layer":[
{"data":{"name":"mk"},"transform":[{"filter":"datum.p==4 && datum.d%30==0"}],"mark":{"type":"rule","color":"black","strokeWidth":2.5},"encoding":{"y":{"datum":3300,"type":"quantitative","axis":{"title":"VELOCITY ( M/SEC )","values":[3300,3400,3500,3600,3700,3800,3900,4000,4100,4200,4300,4400],"format":"d","titleFontSize":7.5,"titlePadding":12}},"y2":{"datum":4400}}},
{"data":{"name":"vel"},"transform":[{"filter":"datum.p==4"}],"mark":{"type":"line","color":"black","strokeWidth":1},"encoding":{"y":{"field":"v","type":"quantitative","scale":{"domain":[3300,4400],"zero":false,"nice":false},"axis":{"title":"VELOCITY ( M/SEC )","values":[3300,3400,3500,3600,3700,3800,3900,4000,4100,4200,4300,4400],"format":"d","titleFontSize":7.5,"titlePadding":12}},"detail":{"field":"s"}}},
{"data":{"name":"vel"},"transform":[{"filter":"datum.p==4"}],"mark":{"type":"point","filled":true,"color":"black","size":85,"opacity":1},"encoding":{"y":{"field":"v","type":"quantitative","axis":{"title":"VELOCITY ( M/SEC )","values":[3300,3400,3500,3600,3700,3800,3900,4000,4100,4200,4300,4400],"format":"d","titleFontSize":7.5,"titlePadding":12}},"shape":{"field":"s","type":"nominal","scale":{"domain":["before","after"],"range":["square","circle"]},"legend":null}}},
{"data":{"name":"mk"},"transform":[{"filter":"datum.p==4"}],"mark":{"type":"point","shape":"M-0.1,-1L0.1,-1L0.1,-0.25L0.55,-0.25L0,1L-0.55,-0.25L-0.1,-0.25Z","size":529,"stroke":"black","strokeWidth":1,"opacity":1,"filled":true},"encoding":{"y":{"datum":4430,"type":"quantitative","axis":{"title":"VELOCITY ( M/SEC )","values":[3300,3400,3500,3600,3700,3800,3900,4000,4100,4200,4300,4400],"format":"d","titleFontSize":7.5,"titlePadding":12}},"fill":{"field":"k","type":"nominal","scale":{"domain":["b","w"],"range":["black","white"]},"legend":null}}}
]},
{"width":125,"height":196,
"encoding":{"x":{"field":"d","type":"quantitative","scale":{"domain":[0,180],"nice":false},"axis":{"title":"DIRECITON","values":[0,30,60,90,120,150,180],"titleFontSize":8,"titlePadding":5}}},
"layer":[
{"data":{"name":"mk"},"transform":[{"filter":"datum.p==5 && datum.d%30==0"}],"mark":{"type":"rule","color":"black","strokeWidth":2.5},"encoding":{"y":{"datum":3300,"type":"quantitative","axis":{"title":"VELOCITY ( M/SEC )","values":[3300,3400,3500,3600,3700,3800,3900,4000,4100,4200,4300,4400],"format":"d","titleFontSize":7.5,"titlePadding":12}},"y2":{"datum":4400}}},
{"data":{"name":"vel"},"transform":[{"filter":"datum.p==5"}],"mark":{"type":"line","color":"black","strokeWidth":1},"encoding":{"y":{"field":"v","type":"quantitative","scale":{"domain":[3300,4400],"zero":false,"nice":false},"axis":{"title":"VELOCITY ( M/SEC )","values":[3300,3400,3500,3600,3700,3800,3900,4000,4100,4200,4300,4400],"format":"d","titleFontSize":7.5,"titlePadding":12}},"detail":{"field":"s"}}},
{"data":{"name":"vel"},"transform":[{"filter":"datum.p==5"}],"mark":{"type":"point","filled":true,"color":"black","size":85,"opacity":1},"encoding":{"y":{"field":"v","type":"quantitative","axis":{"title":"VELOCITY ( M/SEC )","values":[3300,3400,3500,3600,3700,3800,3900,4000,4100,4200,4300,4400],"format":"d","titleFontSize":7.5,"titlePadding":12}},"shape":{"field":"s","type":"nominal","scale":{"domain":["before","after"],"range":["square","circle"]},"legend":null}}},
{"data":{"name":"mk"},"transform":[{"filter":"datum.p==5"}],"mark":{"type":"point","shape":"M-0.1,-1L0.1,-1L0.1,-0.25L0.55,-0.25L0,1L-0.55,-0.25L-0.1,-0.25Z","size":529,"stroke":"black","strokeWidth":1,"opacity":1,"filled":true},"encoding":{"y":{"datum":4430,"type":"quantitative","axis":{"title":"VELOCITY ( M/SEC )","values":[3300,3400,3500,3600,3700,3800,3900,4000,4100,4200,4300,4400],"format":"d","titleFontSize":7.5,"titlePadding":12}},"fill":{"field":"k","type":"nominal","scale":{"domain":["b","w"],"range":["black","white"]},"legend":null}}}
]}
],"spacing":88,"bounds":"flush","resolve":{"legend":{"shape":"independent"}}}
]
}
